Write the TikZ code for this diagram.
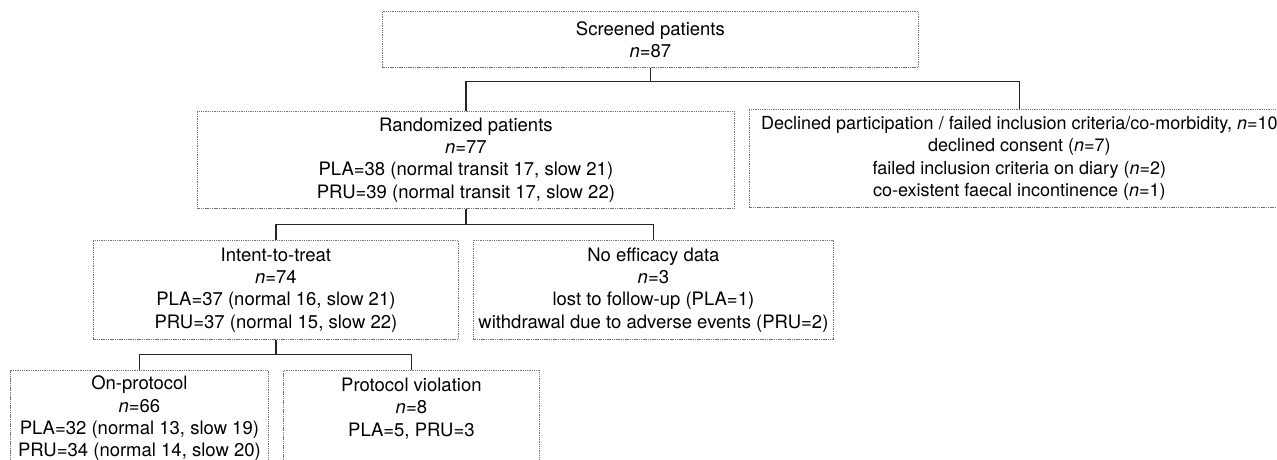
\documentclass[tikz,border=0pt]{standalone}
\usepackage{fontspec}
\setmainfont{TeX Gyre Heros}
\newcommand{\nit}{\textit{n}}
\begin{document}
\begin{tikzpicture}[x=1pt,y=-1pt,
  box/.style={draw=black!55, line width=0.8pt, dash pattern=on 1.1pt off 0.7pt,
    inner sep=0pt, anchor=north west, align=center,
    font=\fontsize{18.5}{22.3}\selectfont},
  link/.style={draw=black!85, line width=1.3pt}]
  % page frame
  \useasboundingbox (0,0) rectangle (1277,460);
  \fill[white] (0,0) rectangle (1277,460);
  \clip (0,0) rectangle (1277,460);

  % boxes
  \node[box, minimum width=536pt, minimum height=56pt] (scr) at (382,11)
    {Screened patients\\\nit=87};
  \node[box, minimum width=537pt, minimum height=97pt] (ran) at (197,111)
    {Randomized patients\\\nit=77\\PLA=38 (normal transit 17, slow 21)\\PRU=39 (normal transit 17, slow 22)};
  \node[box, minimum width=540pt, minimum height=98pt,
        font=\fontsize{18}{22.3}\selectfont] (dec) at (749,109)
    {Declined participation / failed inclusion criteria/co-morbidity, \nit=10\\declined consent (\nit=7)\\failed inclusion criteria on diary (\nit=2)\\co-existent faecal incontinence (\nit=1)};
  \node[box, minimum width=365pt, minimum height=99pt] (itt) at (93,240)
    {Intent-to-treat\\\nit=74\\PLA=37 (normal 16, slow 21)\\PRU=37 (normal 15, slow 22)};
  \node[box, minimum width=360pt, minimum height=99pt] (noe) at (473,240)
    {No efficacy data\\\nit=3\\lost to follow-up (PLA=1)\\withdrawal due to adverse events (PRU=2)};
  \node[box, minimum width=258pt, minimum height=96pt] (onp) at (10,370)
    {On-protocol\\\nit=66\\PLA=32 (normal 13, slow 19)\\PRU=34 (normal 14, slow 20)};
  \node[box, minimum width=256pt, minimum height=96pt] (pv) at (283,370)
    {Protocol violation\\\nit=8\\PLA=5, PRU=3\\\mbox{}};

  % connectors
  \draw[link] (scr.south) -- ++(0,14) coordinate (j1);
  \draw[link] (ran.north) |- (j1) -| (dec.north);
  \draw[link] (ran.south) -- ++(0,16) coordinate (j2);
  \draw[link] (itt.north) |- (j2) -| (noe.north);
  \draw[link] (itt.south) -- ++(0,15) coordinate (j3);
  \draw[link] (onp.north) |- (j3) -| (pv.north);
\end{tikzpicture}
\end{document}
